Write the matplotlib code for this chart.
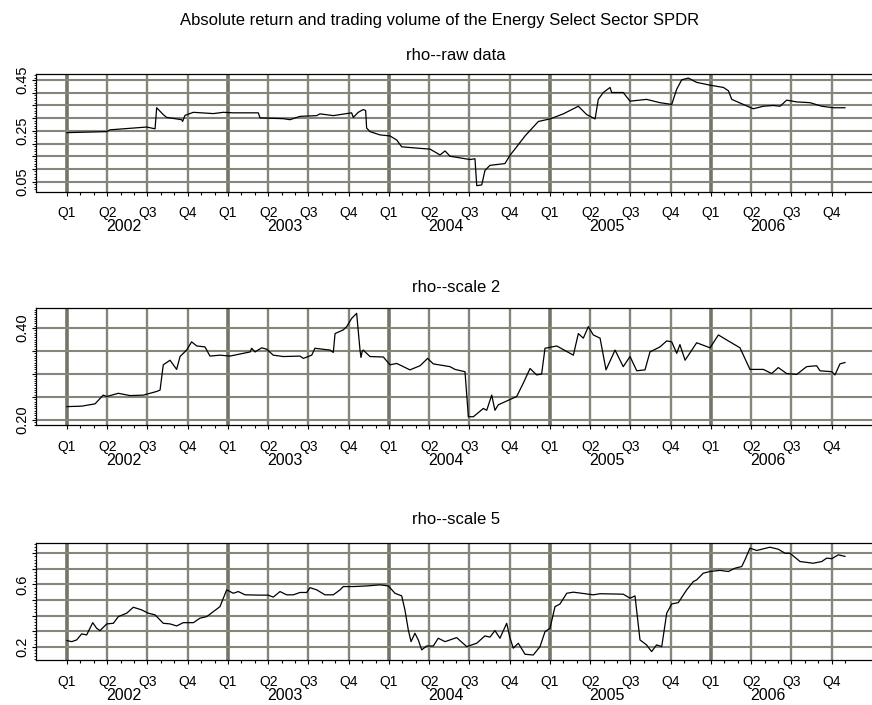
import numpy as np
import matplotlib
matplotlib.use("Agg")
import matplotlib.pyplot as plt
from matplotlib.ticker import FixedLocator, MultipleLocator, FuncFormatter

plt.rcParams['font.family'] = ['Liberation Sans', 'DejaVu Sans']

main_title = "Absolute return and trading volume of the Energy Select Sector SPDR"
panel_titles = ["rho--raw data", "rho--scale 2", "rho--scale 5"]
years = [2002, 2003, 2004, 2005, 2006]
quarter_labels = ["Q1", "Q2", "Q3", "Q4"]

# times in decimal years
raw_t = [2002.000, 2002.247, 2002.267, 2002.495, 2002.547, 2002.557, 2002.598, 2002.619,
         2002.712, 2002.718, 2002.733, 2002.785, 2002.909, 2002.971, 2003.033, 2003.188,
         2003.199, 2003.344, 2003.385, 2003.447, 2003.551, 2003.571, 2003.654, 2003.737,
         2003.768, 2003.778, 2003.809, 2003.840, 2003.855, 2003.861, 2003.882, 2003.944,
         2004.006, 2004.048, 2004.079, 2004.193, 2004.255, 2004.317, 2004.348, 2004.379,
         2004.503, 2004.534, 2004.545, 2004.576, 2004.596, 2004.627, 2004.720, 2004.752,
         2004.793, 2004.845, 2004.928, 2005.000, 2005.083, 2005.176, 2005.228, 2005.280,
         2005.300, 2005.331, 2005.373, 2005.383, 2005.455, 2005.497, 2005.600, 2005.683,
         2005.756, 2005.787, 2005.818, 2005.859, 2005.911, 2005.994, 2006.077, 2006.108,
         2006.129, 2006.201, 2006.263, 2006.325, 2006.387, 2006.429, 2006.470, 2006.532,
         2006.615, 2006.688, 2006.760, 2006.832]
raw_v = [0.243, 0.247, 0.254, 0.265, 0.258, 0.341, 0.314, 0.303,
         0.294, 0.287, 0.311, 0.323, 0.318, 0.323, 0.321, 0.321,
         0.301, 0.298, 0.294, 0.307, 0.310, 0.317, 0.310, 0.318,
         0.321, 0.303, 0.323, 0.334, 0.330, 0.261, 0.247, 0.234,
         0.230, 0.214, 0.187, 0.181, 0.178, 0.155, 0.171, 0.150,
         0.137, 0.140, 0.034, 0.037, 0.094, 0.114, 0.121, 0.154,
         0.187, 0.230, 0.287, 0.297, 0.317, 0.347, 0.314, 0.297,
         0.374, 0.401, 0.421, 0.401, 0.401, 0.367, 0.374, 0.361,
         0.354, 0.414, 0.451, 0.458, 0.441, 0.430, 0.421, 0.408,
         0.374, 0.354, 0.337, 0.347, 0.350, 0.347, 0.371, 0.364,
         0.361, 0.347, 0.341, 0.341]

s2_t = [2002.000, 2002.091, 2002.174, 2002.225, 2002.247, 2002.319, 2002.391, 2002.474,
        2002.557, 2002.578, 2002.598, 2002.640, 2002.681, 2002.702, 2002.743, 2002.774,
        2002.806, 2002.857, 2002.888, 2002.950, 2003.012, 2003.137, 2003.147, 2003.168,
        2003.209, 2003.240, 2003.281, 2003.344, 2003.447, 2003.468, 2003.520, 2003.540,
        2003.634, 2003.654, 2003.665, 2003.716, 2003.737, 2003.768, 2003.799, 2003.820,
        2003.826, 2003.834, 2003.840, 2003.882, 2003.965, 2004.006, 2004.048, 2004.130,
        2004.193, 2004.240, 2004.275, 2004.379, 2004.410, 2004.472, 2004.493, 2004.524,
        2004.586, 2004.607, 2004.638, 2004.658, 2004.679, 2004.793, 2004.834, 2004.876,
        2004.917, 2004.948, 2004.969, 2005.042, 2005.145, 2005.176, 2005.207, 2005.238,
        2005.269, 2005.311, 2005.348, 2005.404, 2005.455, 2005.497, 2005.539, 2005.590,
        2005.621, 2005.683, 2005.725, 2005.756, 2005.787, 2005.807, 2005.839, 2005.911,
        2005.994, 2006.046, 2006.098, 2006.180, 2006.242, 2006.325, 2006.377, 2006.418,
        2006.470, 2006.532, 2006.594, 2006.656, 2006.677, 2006.750, 2006.770, 2006.801,
        2006.832]
s2_v = [0.229, 0.230, 0.235, 0.254, 0.251, 0.258, 0.253, 0.254,
        0.262, 0.265, 0.320, 0.330, 0.310, 0.338, 0.352, 0.370,
        0.361, 0.359, 0.339, 0.341, 0.339, 0.348, 0.356, 0.348,
        0.357, 0.354, 0.341, 0.338, 0.339, 0.334, 0.341, 0.356,
        0.352, 0.347, 0.388, 0.396, 0.403, 0.421, 0.432, 0.352,
        0.336, 0.350, 0.352, 0.338, 0.337, 0.320, 0.323, 0.309,
        0.318, 0.334, 0.322, 0.316, 0.310, 0.305, 0.207, 0.207,
        0.225, 0.221, 0.254, 0.221, 0.233, 0.251, 0.280, 0.312,
        0.298, 0.300, 0.356, 0.361, 0.341, 0.388, 0.378, 0.403,
        0.385, 0.378, 0.309, 0.352, 0.316, 0.338, 0.307, 0.309,
        0.348, 0.359, 0.372, 0.370, 0.345, 0.364, 0.330, 0.368,
        0.357, 0.385, 0.374, 0.357, 0.310, 0.310, 0.301, 0.314,
        0.301, 0.299, 0.316, 0.318, 0.307, 0.305, 0.298, 0.322,
        0.325]

s5_t = [2002.000, 2002.029, 2002.060, 2002.091, 2002.122, 2002.160, 2002.184, 2002.205,
        2002.247, 2002.288, 2002.319, 2002.371, 2002.412, 2002.464, 2002.505, 2002.547,
        2002.598, 2002.640, 2002.681, 2002.722, 2002.785, 2002.826, 2002.868, 2002.909,
        2002.950, 2002.971, 2002.992, 2003.033, 2003.064, 2003.106, 2003.199, 2003.250,
        2003.281, 2003.323, 2003.364, 2003.406, 2003.447, 2003.489, 2003.509, 2003.551,
        2003.602, 2003.654, 2003.696, 2003.716, 2003.778, 2003.861, 2003.944, 2003.996,
        2004.037, 2004.079, 2004.099, 2004.120, 2004.137, 2004.161, 2004.182, 2004.203,
        2004.234, 2004.275, 2004.306, 2004.348, 2004.420, 2004.483, 2004.545, 2004.596,
        2004.627, 2004.658, 2004.689, 2004.731, 2004.752, 2004.772, 2004.803, 2004.845,
        2004.896, 2004.938, 2004.969, 2005.000, 2005.031, 2005.062, 2005.104, 2005.145,
        2005.269, 2005.311, 2005.455, 2005.497, 2005.528, 2005.559, 2005.600, 2005.631,
        2005.662, 2005.694, 2005.725, 2005.756, 2005.797, 2005.849, 2005.890, 2005.911,
        2005.952, 2005.994, 2006.056, 2006.108, 2006.149, 2006.191, 2006.211, 2006.242,
        2006.284, 2006.366, 2006.418, 2006.460, 2006.491, 2006.553, 2006.635, 2006.688,
        2006.719, 2006.750, 2006.791, 2006.832]
s5_v = [0.239, 0.232, 0.243, 0.282, 0.275, 0.354, 0.318, 0.303,
        0.346, 0.350, 0.393, 0.415, 0.453, 0.436, 0.415, 0.404,
        0.350, 0.346, 0.333, 0.354, 0.354, 0.383, 0.393, 0.425,
        0.457, 0.511, 0.565, 0.543, 0.554, 0.533, 0.531, 0.531,
        0.518, 0.554, 0.533, 0.533, 0.548, 0.548, 0.579, 0.565,
        0.533, 0.533, 0.565, 0.586, 0.586, 0.590, 0.597, 0.590,
        0.543, 0.526, 0.436, 0.307, 0.232, 0.286, 0.243, 0.179,
        0.204, 0.204, 0.254, 0.232, 0.258, 0.200, 0.222, 0.269,
        0.261, 0.303, 0.254, 0.350, 0.254, 0.190, 0.222, 0.151,
        0.146, 0.200, 0.296, 0.318, 0.457, 0.474, 0.543, 0.550,
        0.533, 0.540, 0.537, 0.511, 0.526, 0.243, 0.211, 0.168,
        0.211, 0.200, 0.415, 0.474, 0.483, 0.565, 0.618, 0.629,
        0.672, 0.683, 0.690, 0.683, 0.704, 0.715, 0.758, 0.833,
        0.818, 0.839, 0.826, 0.800, 0.800, 0.747, 0.736, 0.747,
        0.769, 0.765, 0.790, 0.780]

series = [(raw_t, raw_v), (s2_t, s2_v), (s5_t, s5_v)]
# y axis setup per panel: limits, grid step, minor step, labelled values
ylims = [(0.011, 0.474), (0.189, 0.443), (0.114, 0.868)]
ygrid = [np.arange(0.05, 0.451, 0.05), np.arange(0.20, 0.401, 0.05), np.arange(0.2, 0.801, 0.1)]
yminor = [0.01, 0.005, 0.02]
ylabels = [["0.05", "0.25", "0.45"], ["0.20", "0.40"], ["0.2", "0.6"]]
ylabfmt = ["%.2f", "%.2f", "%.1f"]

W, H = 872, 705
fig = plt.figure(figsize=(W / 100, H / 100), dpi=100)
# (top, bottom) of each plot box in pixels
boxes = [(74, 191.5), (308.3, 425), (542.7, 660)]
title_y = [56, 288, 520]

grid_col = '#85857a'
year_col = '#747469'
quarters = [y + q / 4 for y in years for q in range(4)]
months = [2002 + m / 12 for m in range(59)]

for i, (t, v) in enumerate(series):
    top, bot = boxes[i]
    ax = fig.add_axes([36 / W, 1 - bot / H, 1 - 36 / W, (bot - top) / H])
    ax.set_xlim(2001.8075, 2007.0)
    ax.set_ylim(*ylims[i])

    for q in quarters:
        yr = abs(q - round(q)) < 1e-6
        ax.axvline(q, color=year_col if yr else grid_col, lw=2.6 if yr else 1.7, zorder=1)
    for g in ygrid[i]:
        ax.axhline(g, color=grid_col, lw=1.5, zorder=1)

    ax.plot(t, v, color='black', lw=0.9, zorder=3)

    ax.xaxis.set_major_locator(FixedLocator(quarters))
    ax.xaxis.set_minor_locator(FixedLocator(months))
    ax.set_xticklabels(quarter_labels * len(years))
    ax.tick_params(axis='x', which='major', length=3, width=0.8, pad=7.5, labelsize=10)
    ax.tick_params(axis='x', which='minor', length=2, width=0.8)

    labs = ylabels[i]
    fmt = ylabfmt[i]
    ax.yaxis.set_major_locator(FixedLocator(ygrid[i]))
    ax.yaxis.set_major_formatter(FuncFormatter(lambda val, pos, labs=labs, fmt=fmt: (fmt % val) if (fmt % val) in labs else ""))
    ax.yaxis.set_minor_locator(MultipleLocator(yminor[i]))
    ax.tick_params(axis='y', which='major', length=3, width=0.8, pad=2, labelsize=10.5, labelrotation=90)
    ax.tick_params(axis='y', which='minor', length=1.5, width=0.6)
    for lab in ax.get_yticklabels():
        lab.set_va('center')

    for side in ['top', 'left', 'bottom']:
        ax.spines[side].set_linewidth(0.9)
        ax.spines[side].set_zorder(4)
    ax.spines['right'].set_visible(False)

    for y in years:
        ax.annotate(str(y), xy=(y + 0.355, 0), xycoords=('data', 'axes fraction'),
                    xytext=(0, -25.5), textcoords='offset points',
                    ha='center', va='center', fontsize=11.5)

    fig.text(456 / W, 1 - title_y[i] / H, panel_titles[i], ha='center', va='center', fontsize=12)

fig.text(440 / W, 1 - 20 / H, main_title, ha='center', va='center', fontsize=12)

fig.savefig('out.png', dpi=100)
